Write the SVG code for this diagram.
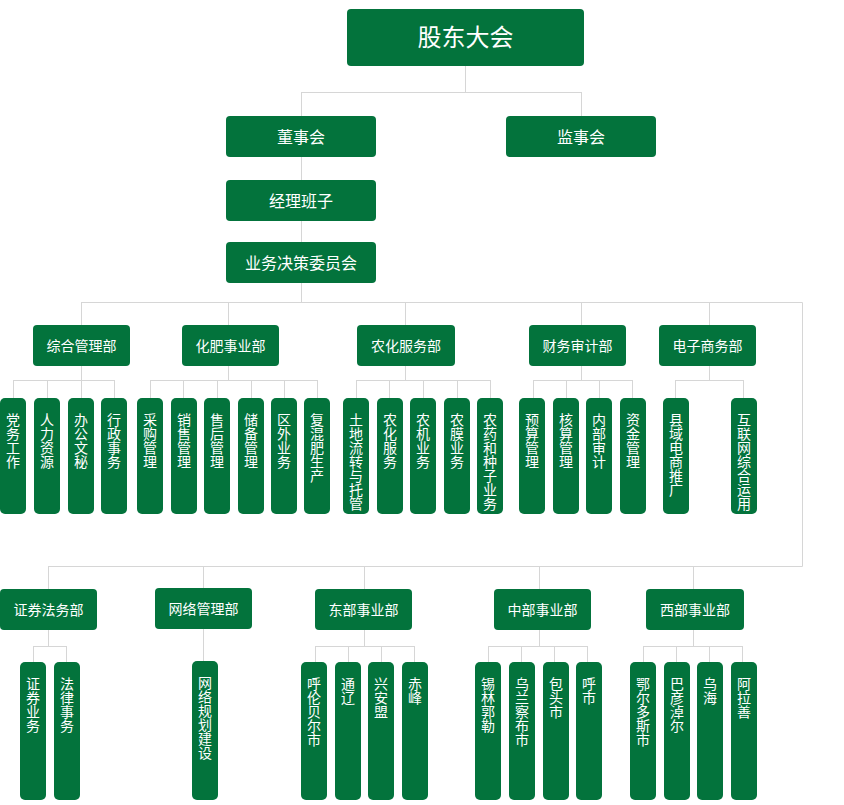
<svg xmlns="http://www.w3.org/2000/svg" width="844" height="805" viewBox="0 0 844 805">
<style>
.b{fill:#03733c}
.t{fill:#ffffff;font-family:"Noto Sans CJK SC","Microsoft YaHei",sans-serif;text-anchor:middle}
.t24{font-size:24px}
.t16{font-size:16px}
.t14{font-size:14px}
.v{font-size:14px}
.c{fill:none;stroke:#d6d6d6;stroke-width:1}
</style>
<rect width="844" height="805" fill="#ffffff"/>
<g id="connectors" class="c">
<path d="M465.5 66V92.5M301.5 92.5H581.5M301.5 92V116M581.5 92V116M301.5 157V180M301.5 221V242M301.5 283V302.5"/>
<path d="M81.5 302.5H802.5V566.5M81.5 302V325M228.5 302V325M405.5 302V325M581.5 302V325M709.5 302V325"/>
<path d="M81.5 366V380.5M13.5 380.5H114.5M13.5 380V398M47.5 380V398M81.5 380V398M114.5 380V398"/>
<path d="M228.5 366V380.5M150.5 380.5H317.5M150.5 380V398M183.5 380V398M217.5 380V398M251.5 380V398M284.5 380V398M317.5 380V398"/>
<path d="M405.5 366V380.5M356.5 380.5H490.5M356.5 380V398M389.5 380V398M423.5 380V398M457.5 380V398M490.5 380V398"/>
<path d="M581.5 366V380.5M533.5 380.5H632.5M533.5 380V398M566.5 380V398M599.5 380V398M632.5 380V398"/>
<path d="M709.5 366V380.5M675.5 380.5H743.5M675.5 380V398M743.5 380V398"/>
<path d="M48.5 566.5H802.5M48.5 566V589M203.5 566V588M364.5 566V589M539.5 566V589M693.5 566V589"/>
<path d="M48.5 630V646.5M33.5 646.5H66.5M33.5 646V662M66.5 646V662"/>
<path d="M203.5 629V661"/>
<path d="M364.5 630V646.5M315.5 646.5H414.5M315.5 646V662M348.5 646V662M381.5 646V662M414.5 646V662"/>
<path d="M539.5 630V646.5M488.5 646.5H587.5M488.5 646V662M521.5 646V662M554.5 646V662M587.5 646V662"/>
<path d="M693.5 630V646.5M643.5 646.5H742.5M643.5 646V662M676.5 646V662M709.5 646V662M742.5 646V662"/>
</g>
<g id="n-gudong"><rect class="b" x="347" y="9" width="237" height="57" rx="4"/><text class="t t24" x="465.5" y="46">股东大会</text></g>
<g id="n-dongshi"><rect class="b" x="226" y="116" width="150" height="41" rx="4"/><text class="t t16" x="301" y="143">董事会</text></g>
<g id="n-jianshi"><rect class="b" x="506" y="116" width="150" height="41" rx="4"/><text class="t t16" x="581" y="143">监事会</text></g>
<g id="n-jingli"><rect class="b" x="226" y="180" width="150" height="41" rx="4"/><text class="t t16" x="301" y="207">经理班子</text></g>
<g id="n-juece"><rect class="b" x="226" y="242" width="150" height="41" rx="4"/><text class="t t16" x="301" y="269">业务决策委员会</text></g>
<g id="d-zonghe"><rect class="b" x="33" y="325" width="97" height="41" rx="4"/><text class="t t14" x="81.5" y="350.5">综合管理部</text></g>
<g id="d-huafei"><rect class="b" x="182" y="325" width="97" height="41" rx="4"/><text class="t t14" x="230.5" y="350.5">化肥事业部</text></g>
<g id="d-nonghua"><rect class="b" x="357" y="325" width="98" height="41" rx="4"/><text class="t t14" x="406" y="350.5">农化服务部</text></g>
<g id="d-caiwu"><rect class="b" x="529" y="325" width="97" height="41" rx="4"/><text class="t t14" x="577.5" y="350.5">财务审计部</text></g>
<g id="d-dianzi"><rect class="b" x="659" y="325" width="97" height="41" rx="4"/><text class="t t14" x="707.5" y="350.5">电子商务部</text></g>
<g id="d-zhengquan"><rect class="b" x="0" y="589" width="97" height="41" rx="4"/><text class="t t14" x="48.5" y="614.5">证券法务部</text></g>
<g id="d-wangluo"><rect class="b" x="155" y="588" width="97" height="41" rx="4"/><text class="t t14" x="203.5" y="613.5">网络管理部</text></g>
<g id="d-dongbu"><rect class="b" x="315" y="589" width="97" height="41" rx="4"/><text class="t t14" x="363.5" y="614.5">东部事业部</text></g>
<g id="d-zhongbu"><rect class="b" x="494" y="589" width="97" height="41" rx="4"/><text class="t t14" x="542.5" y="614.5">中部事业部</text></g>
<g id="d-xibu"><rect class="b" x="646" y="589" width="98" height="41" rx="4"/><text class="t t14" x="695" y="614.5">西部事业部</text></g>
<g id="c1"><rect class="b" x="0" y="398" width="26" height="116" rx="5"/><text class="t v" x="13" y="425"><tspan x="13">党</tspan><tspan x="13" dy="14">务</tspan><tspan x="13" dy="14">工</tspan><tspan x="13" dy="14">作</tspan></text></g>
<g id="c2"><rect class="b" x="34" y="398" width="26" height="116" rx="5"/><text class="t v" x="47" y="425"><tspan x="47">人</tspan><tspan x="47" dy="14">力</tspan><tspan x="47" dy="14">资</tspan><tspan x="47" dy="14">源</tspan></text></g>
<g id="c3"><rect class="b" x="68" y="398" width="26" height="116" rx="5"/><text class="t v" x="81" y="425"><tspan x="81">办</tspan><tspan x="81" dy="14">公</tspan><tspan x="81" dy="14">文</tspan><tspan x="81" dy="14">秘</tspan></text></g>
<g id="c4"><rect class="b" x="101" y="398" width="26" height="116" rx="5"/><text class="t v" x="114" y="425"><tspan x="114">行</tspan><tspan x="114" dy="14">政</tspan><tspan x="114" dy="14">事</tspan><tspan x="114" dy="14">务</tspan></text></g>
<g id="c5"><rect class="b" x="137" y="398" width="26" height="116" rx="5"/><text class="t v" x="150" y="425"><tspan x="150">采</tspan><tspan x="150" dy="14">购</tspan><tspan x="150" dy="14">管</tspan><tspan x="150" dy="14">理</tspan></text></g>
<g id="c6"><rect class="b" x="171" y="398" width="26" height="116" rx="5"/><text class="t v" x="184" y="425"><tspan x="184">销</tspan><tspan x="184" dy="14">售</tspan><tspan x="184" dy="14">管</tspan><tspan x="184" dy="14">理</tspan></text></g>
<g id="c7"><rect class="b" x="204" y="398" width="26" height="116" rx="5"/><text class="t v" x="217" y="425"><tspan x="217">售</tspan><tspan x="217" dy="14">后</tspan><tspan x="217" dy="14">管</tspan><tspan x="217" dy="14">理</tspan></text></g>
<g id="c8"><rect class="b" x="238" y="398" width="26" height="116" rx="5"/><text class="t v" x="251" y="425"><tspan x="251">储</tspan><tspan x="251" dy="14">备</tspan><tspan x="251" dy="14">管</tspan><tspan x="251" dy="14">理</tspan></text></g>
<g id="c9"><rect class="b" x="271" y="398" width="26" height="116" rx="5"/><text class="t v" x="284" y="425"><tspan x="284">区</tspan><tspan x="284" dy="14">外</tspan><tspan x="284" dy="14">业</tspan><tspan x="284" dy="14">务</tspan></text></g>
<g id="c10"><rect class="b" x="304" y="398" width="26" height="116" rx="5"/><text class="t v" x="317" y="425"><tspan x="317">复</tspan><tspan x="317" dy="14">混</tspan><tspan x="317" dy="14">肥</tspan><tspan x="317" dy="14">生</tspan><tspan x="317" dy="14">产</tspan></text></g>
<g id="c11"><rect class="b" x="343" y="398" width="26" height="116" rx="5"/><text class="t v" x="356" y="425"><tspan x="356">土</tspan><tspan x="356" dy="14">地</tspan><tspan x="356" dy="14">流</tspan><tspan x="356" dy="14">转</tspan><tspan x="356" dy="14">与</tspan><tspan x="356" dy="14">托</tspan><tspan x="356" dy="14">管</tspan></text></g>
<g id="c12"><rect class="b" x="377" y="398" width="26" height="116" rx="5"/><text class="t v" x="390" y="425"><tspan x="390">农</tspan><tspan x="390" dy="14">化</tspan><tspan x="390" dy="14">服</tspan><tspan x="390" dy="14">务</tspan></text></g>
<g id="c13"><rect class="b" x="410" y="398" width="26" height="116" rx="5"/><text class="t v" x="423" y="425"><tspan x="423">农</tspan><tspan x="423" dy="14">机</tspan><tspan x="423" dy="14">业</tspan><tspan x="423" dy="14">务</tspan></text></g>
<g id="c14"><rect class="b" x="444" y="398" width="26" height="116" rx="5"/><text class="t v" x="457" y="425"><tspan x="457">农</tspan><tspan x="457" dy="14">膜</tspan><tspan x="457" dy="14">业</tspan><tspan x="457" dy="14">务</tspan></text></g>
<g id="c15"><rect class="b" x="477" y="398" width="26" height="116" rx="5"/><text class="t v" x="490" y="425"><tspan x="490">农</tspan><tspan x="490" dy="14">药</tspan><tspan x="490" dy="14">和</tspan><tspan x="490" dy="14">种</tspan><tspan x="490" dy="14">子</tspan><tspan x="490" dy="14">业</tspan><tspan x="490" dy="14">务</tspan></text></g>
<g id="c16"><rect class="b" x="519" y="398" width="26" height="116" rx="5"/><text class="t v" x="532" y="425"><tspan x="532">预</tspan><tspan x="532" dy="14">算</tspan><tspan x="532" dy="14">管</tspan><tspan x="532" dy="14">理</tspan></text></g>
<g id="c17"><rect class="b" x="553" y="398" width="26" height="116" rx="5"/><text class="t v" x="566" y="425"><tspan x="566">核</tspan><tspan x="566" dy="14">算</tspan><tspan x="566" dy="14">管</tspan><tspan x="566" dy="14">理</tspan></text></g>
<g id="c18"><rect class="b" x="586" y="398" width="26" height="116" rx="5"/><text class="t v" x="599" y="425"><tspan x="599">内</tspan><tspan x="599" dy="14">部</tspan><tspan x="599" dy="14">审</tspan><tspan x="599" dy="14">计</tspan></text></g>
<g id="c19"><rect class="b" x="620" y="398" width="26" height="116" rx="5"/><text class="t v" x="633" y="425"><tspan x="633">资</tspan><tspan x="633" dy="14">金</tspan><tspan x="633" dy="14">管</tspan><tspan x="633" dy="14">理</tspan></text></g>
<g id="c20"><rect class="b" x="663" y="398" width="26" height="116" rx="5"/><text class="t v" x="676" y="425"><tspan x="676">县</tspan><tspan x="676" dy="14">域</tspan><tspan x="676" dy="14">电</tspan><tspan x="676" dy="14">商</tspan><tspan x="676" dy="14">推</tspan><tspan x="676" dy="14">广</tspan></text></g>
<g id="c21"><rect class="b" x="731" y="398" width="26" height="116" rx="5"/><text class="t v" x="744" y="425"><tspan x="744">互</tspan><tspan x="744" dy="14">联</tspan><tspan x="744" dy="14">网</tspan><tspan x="744" dy="14">综</tspan><tspan x="744" dy="14">合</tspan><tspan x="744" dy="14">运</tspan><tspan x="744" dy="14">用</tspan></text></g>
<g id="e1"><rect class="b" x="20" y="662" width="26" height="138" rx="5"/><text class="t v" x="33" y="689"><tspan x="33">证</tspan><tspan x="33" dy="14">券</tspan><tspan x="33" dy="14">业</tspan><tspan x="33" dy="14">务</tspan></text></g>
<g id="e2"><rect class="b" x="54" y="662" width="26" height="138" rx="5"/><text class="t v" x="67" y="689"><tspan x="67">法</tspan><tspan x="67" dy="14">律</tspan><tspan x="67" dy="14">事</tspan><tspan x="67" dy="14">务</tspan></text></g>
<g id="e3"><rect class="b" x="192" y="661" width="26" height="139" rx="5"/><text class="t v" x="205" y="688"><tspan x="205">网</tspan><tspan x="205" dy="14">络</tspan><tspan x="205" dy="14">规</tspan><tspan x="205" dy="14">划</tspan><tspan x="205" dy="14">建</tspan><tspan x="205" dy="14">设</tspan></text></g>
<g id="e4"><rect class="b" x="301" y="662" width="26" height="138" rx="5"/><text class="t v" x="314" y="689"><tspan x="314">呼</tspan><tspan x="314" dy="14">伦</tspan><tspan x="314" dy="14">贝</tspan><tspan x="314" dy="14">尔</tspan><tspan x="314" dy="14">市</tspan></text></g>
<g id="e5"><rect class="b" x="335" y="662" width="26" height="138" rx="5"/><text class="t v" x="348" y="689"><tspan x="348">通</tspan><tspan x="348" dy="14">辽</tspan></text></g>
<g id="e6"><rect class="b" x="368" y="662" width="26" height="138" rx="5"/><text class="t v" x="381" y="689"><tspan x="381">兴</tspan><tspan x="381" dy="14">安</tspan><tspan x="381" dy="14">盟</tspan></text></g>
<g id="e7"><rect class="b" x="402" y="662" width="26" height="138" rx="5"/><text class="t v" x="415" y="689"><tspan x="415">赤</tspan><tspan x="415" dy="14">峰</tspan></text></g>
<g id="e8"><rect class="b" x="475" y="662" width="26" height="138" rx="5"/><text class="t v" x="488" y="689"><tspan x="488">锡</tspan><tspan x="488" dy="14">林</tspan><tspan x="488" dy="14">郭</tspan><tspan x="488" dy="14">勒</tspan></text></g>
<g id="e9"><rect class="b" x="509" y="662" width="26" height="138" rx="5"/><text class="t v" x="522" y="689"><tspan x="522">乌</tspan><tspan x="522" dy="14">兰</tspan><tspan x="522" dy="14">察</tspan><tspan x="522" dy="14">布</tspan><tspan x="522" dy="14">市</tspan></text></g>
<g id="e10"><rect class="b" x="543" y="662" width="26" height="138" rx="5"/><text class="t v" x="556" y="689"><tspan x="556">包</tspan><tspan x="556" dy="14">头</tspan><tspan x="556" dy="14">市</tspan></text></g>
<g id="e11"><rect class="b" x="576" y="662" width="26" height="138" rx="5"/><text class="t v" x="589" y="689"><tspan x="589">呼</tspan><tspan x="589" dy="14">市</tspan></text></g>
<g id="e12"><rect class="b" x="630" y="662" width="26" height="138" rx="5"/><text class="t v" x="643" y="689"><tspan x="643">鄂</tspan><tspan x="643" dy="14">尔</tspan><tspan x="643" dy="14">多</tspan><tspan x="643" dy="14">斯</tspan><tspan x="643" dy="14">市</tspan></text></g>
<g id="e13"><rect class="b" x="664" y="662" width="26" height="138" rx="5"/><text class="t v" x="677" y="689"><tspan x="677">巴</tspan><tspan x="677" dy="14">彦</tspan><tspan x="677" dy="14">淖</tspan><tspan x="677" dy="14">尔</tspan></text></g>
<g id="e14"><rect class="b" x="697" y="662" width="26" height="138" rx="5"/><text class="t v" x="710" y="689"><tspan x="710">乌</tspan><tspan x="710" dy="14">海</tspan></text></g>
<g id="e15"><rect class="b" x="731" y="662" width="26" height="138" rx="5"/><text class="t v" x="744" y="689"><tspan x="744">阿</tspan><tspan x="744" dy="14">拉</tspan><tspan x="744" dy="14">善</tspan></text></g>
</svg>
